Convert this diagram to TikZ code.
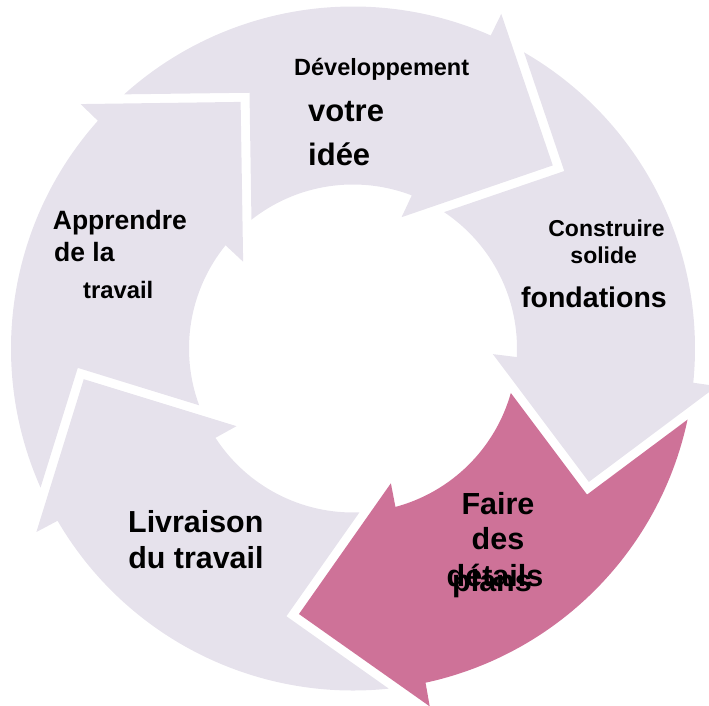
\documentclass[tikz,border=0pt]{standalone}
\usepackage{fontspec}
\setmainfont{Liberation Sans}
\definecolor{lav}{RGB}{230,226,236}
\definecolor{rose}{RGB}{206,114,152}
\tikzset{
  lbl/.style={inner sep=0pt, font=\bfseries, text=black},
  fs/.style={font=\bfseries\fontsize{#1}{#1}\selectfont}
}
\begin{document}
\begin{tikzpicture}[x=1pt,y=1pt]
\useasboundingbox (-353,-357.5) rectangle (356,348.5);
\clip (-353,-357.5) rectangle (356,348.5);
\foreach \p/\c in {42.5/lav, -29.5/lav, -101.5/rose, -173.5/lav, 114.5/lav} {
  \pgfmathsetmacro\aA{\p+89.5}
  \pgfmathsetmacro\aB{\p+23.75}
  \pgfmathsetmacro\aO{\p+23.6}
  \pgfmathsetmacro\aI{\p+27.2}
  \pgfmathsetmacro\aC{\p+26.5}
  \pgfmathsetmacro\aD{\p+85.76}
  \pgfmathsetmacro\aN{\p+69.53}
  \fill[fill=\c] (\aA:342pt) arc[start angle=\aA, end angle=\aB, radius=342pt]
    -- (\aO:366pt) -- (\p:271pt) -- (\aI:140pt) -- (\aC:164pt)
    arc[start angle=\aC, end angle=\aD, radius=164pt]
    -- (\aN:275.9pt) -- cycle;
}
% Développement votre idée
\node[lbl, fs=23.5, anchor=base west] (t1a) at (-59,272.5) {Développement};
\node[lbl, fs=31, anchor=base west] (t1b) at (-45,226.8) {votre};
\node[lbl, fs=31, anchor=base west] (t1c) at (-45,182.5) {idée};
% Construire solide fondations
\node[lbl, fs=23, anchor=base] (t2a) at (253.5,111.8) {Construire};
\node[lbl, fs=23, anchor=base] (t2b) at (250.7,84.5) {solide};
\node[lbl, fs=28.5, anchor=base] (t2c) at (241,41) {fondations};
% Faire des détails plans
\node[lbl, fs=30.5, anchor=base] (t3a) at (145,-165.5) {Faire};
\node[lbl, fs=30.5, anchor=base] (t3b) at (145,-200.5) {des};
\node[lbl, fs=30.5, anchor=base] (t3c) at (142,-237.5) {détails};
\node[lbl, fs=30.5, anchor=base] (t3d) at (139,-242.5) {plans};
% Livraison du travail
\node[lbl, fs=30.4, anchor=base] (t4a) at (-157.2,-183.5) {Livraison};
\node[lbl, fs=30.4, anchor=base] (t4b) at (-157,-220) {du travail};
% Apprendre de la travail
\node[lbl, fs=26.5, anchor=base west] (t5a) at (-300.3,119.2) {Apprendre};
\node[lbl, fs=26.5, anchor=base west] (t5b) at (-299,86.8) {de la};
\node[lbl, fs=23.8, anchor=base] (t5c) at (-234.7,50.2) {travail};
\end{tikzpicture}
\end{document}
